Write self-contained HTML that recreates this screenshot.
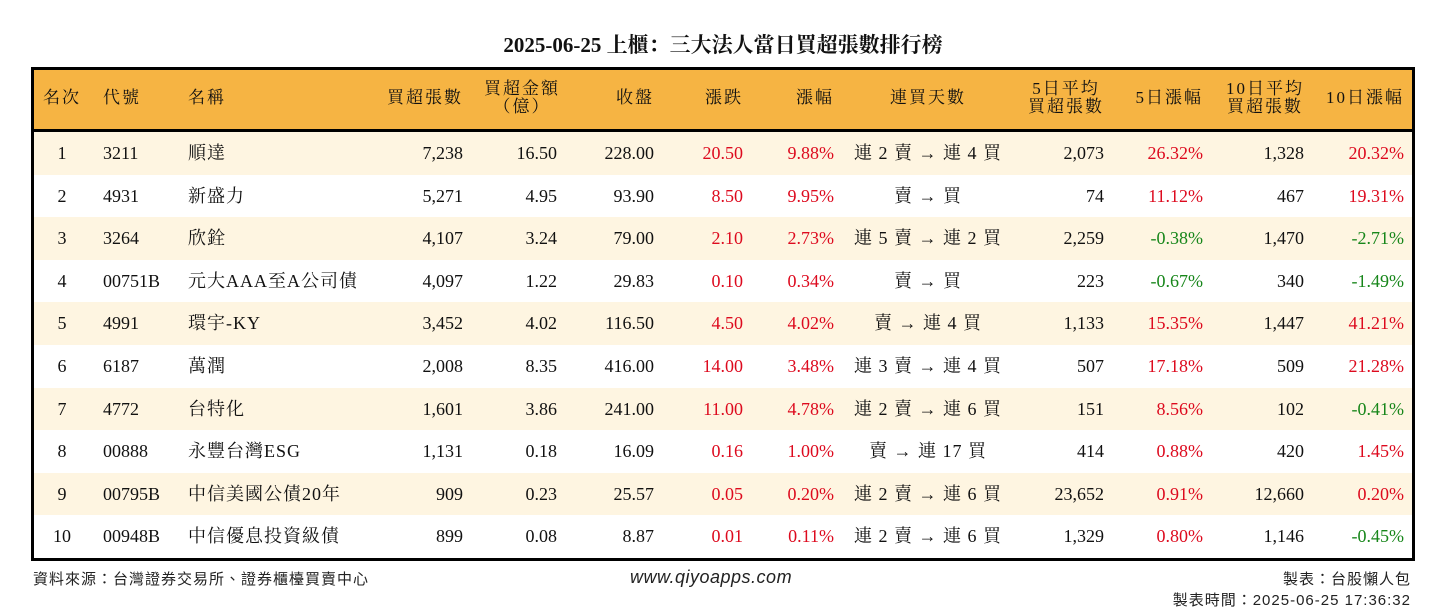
<!DOCTYPE html>
<html><head><meta charset="utf-8">
<style>
body{margin:0;width:1446px;height:612px;background:#fff;position:relative;overflow:hidden;font-family:"Liberation Serif","Noto Serif CJK SC","Noto Serif CJK TC",serif;color:#111}
#title{position:absolute;top:29px;left:0;width:1446px;text-align:center;font-size:21px;font-weight:bold}
#tbl{position:absolute;left:31px;top:67px;width:1378px;height:488px;border:3px solid #000;overflow:hidden}
#hdr{position:absolute;left:0;top:0;width:1378px;height:59px;background:#F6B443;border-bottom:3px solid #000}
.c{position:absolute;font-size:18px;white-space:nowrap;line-height:20px}
.h{font-size:17px;line-height:18px;text-align:center;letter-spacing:2px}
.row{position:absolute;left:0;width:1378px;height:42.6px}
.r{color:#DD0A1E}.g{color:#17861A}
.foot{position:absolute;font-family:"Liberation Sans","Noto Sans CJK TC",sans-serif;font-size:15px;color:#222;letter-spacing:1px}
</style></head><body>
<div id="title">2025-06-25 上櫃：三大法人當日買超張數排行榜</div>
<div id="tbl">
<div id="hdr"></div>
</div>
<div class="foot" style="left:33px;top:568px">資料來源：台灣證券交易所、證券櫃檯買賣中心</div>
<div class="foot" style="left:630px;top:567px;font-style:italic;font-size:18px;letter-spacing:0.5px">www.qiyoapps.com</div>
<div class="foot" style="right:35px;top:568px">製表：台股懶人包</div>
<div class="foot" style="right:35px;top:589px">製表時間：2025-06-25 17:36:32</div>
<script>
const ranks=["1","2","3","4","5","6","7","8","9","10"];
const codes=["3211","4931","3264","00751B","4991","6187","4772","00888","00795B","00948B"];
const names=["順達","新盛力","欣銓","元大AAA至A公司債","環宇-KY","萬潤","台特化","永豐台灣ESG","中信美國公債20年","中信優息投資級債"];
const buyQty=["7,238","5,271","4,107","4,097","3,452","2,008","1,601","1,131","909","899"];
const buyAmt=["16.50","4.95","3.24","1.22","4.02","8.35","3.86","0.18","0.23","0.08"];
const closes=["228.00","93.90","79.00","29.83","116.50","416.00","241.00","16.09","25.57","8.87"];
const changes=["20.50","8.50","2.10","0.10","4.50","14.00","11.00","0.16","0.05","0.01"];
const pcts=["9.88%","9.95%","2.73%","0.34%","4.02%","3.48%","4.78%","1.00%","0.20%","0.11%"];
const streaks=["連 2 賣 → 連 4 買","賣 → 買","連 5 賣 → 連 2 買","賣 → 買","賣 → 連 4 買","連 3 賣 → 連 4 買","連 2 賣 → 連 6 買","賣 → 連 17 買","連 2 賣 → 連 6 買","連 2 賣 → 連 6 買"];
const avg5=["2,073","74","2,259","223","1,133","507","151","414","23,652","1,329"];
const pct5=["26.32%","11.12%","-0.38%","-0.67%","15.35%","17.18%","8.56%","0.88%","0.91%","0.80%"];
const avg10=["1,328","467","1,470","340","1,447","509","102","420","12,660","1,146"];
const pct10=["20.32%","19.31%","-2.71%","-1.49%","41.21%","21.28%","-0.41%","1.45%","0.20%","-0.45%"];
const headers=["名次","代號","名稱","買超張數","買超金額<br>（億）","收盤","漲跌","漲幅","連買天數","5日平均<br>買超張數","5日漲幅","10日平均<br>買超張數","10日漲幅"];
const cols=[["c",28],["l",69],["l",154],["r",429],["r",523],["r",620],["r",709],["r",800],["c",894],["r",1070],["r",1169],["r",1270],["r",1370]];
const tbl=document.getElementById('tbl');
function place(parent,html,col,top,cls){
  const d=document.createElement('div');
  d.className='c '+(cls||'');
  d.innerHTML=html;
  d.style.top=top+'px';
  const [t,x]=col;
  if(t==='l'){d.style.left=x+'px';}
  else if(t==='r'){d.style.right=(1378-x)+'px';}
  else{d.style.left=(x-150)+'px';d.style.width='300px';d.style.textAlign='center';}
  parent.appendChild(d);
  return d;
}
const hdr=document.getElementById('hdr');
headers.forEach((h,i)=>{
  const two=h.includes('<br>');
  const el=place(hdr,h,cols[i],two?10:19,'h');
  if(i===4){el.style.right='';el.style.left='446px';el.style.width='84px';}
  
  
});
function clr(v){return v.startsWith('-')?'g':'r';}
for(let i=0;i<ranks.length;i++){
  const row=document.createElement('div');
  row.className='row';
  row.style.top=(62+i*42.6)+'px';
  row.style.background=i%2===0?'#FEF5E1':'#fff';
  
  
  tbl.appendChild(row);
  const vals=[[ranks[i],''],[codes[i],''],[names[i],''],[buyQty[i],''],[buyAmt[i],''],[closes[i],''],[changes[i],clr(changes[i])],[pcts[i],clr(pcts[i])],[streaks[i],''],[avg5[i],''],[pct5[i],clr(pct5[i])],[avg10[i],''],[pct10[i],clr(pct10[i])]];
  vals.forEach((v,j)=>{
    const el=place(row,v[0],cols[j],11,v[1]);
    if(j===2||j===8)el.style.letterSpacing='1px';
    
    
  });
}
</script>
</body></html>
